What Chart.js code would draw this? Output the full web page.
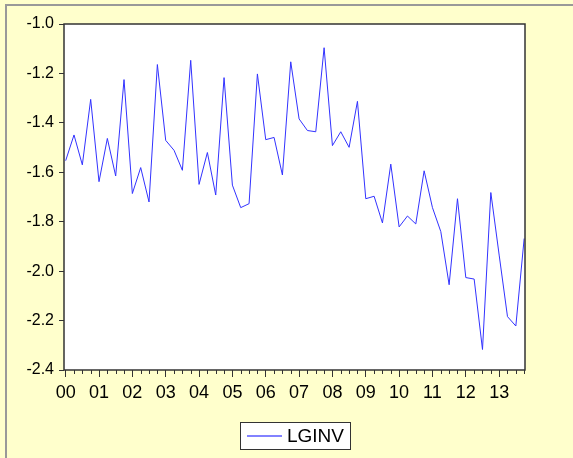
<!DOCTYPE html>
<html>
<head>
<meta charset="utf-8">
<script src="https://cdn.jsdelivr.net/npm/chart.js@4/dist/chart.umd.min.js"></script>
<style>
  body { margin: 0; background: #ffffcc; }
  canvas { display: block; }
</style>
</head>
<body>
<canvas id="myChart" width="573" height="458"></canvas>
<script>
// quarterly LGINV, 2000Q1 - 2013Q4
const yearLabels = ['00','01','02','03','04','05','06','07','08','09','10','11','12','13']
const lginv = [
  -1.553, -1.449, -1.570, -1.305,
  -1.638, -1.463, -1.615, -1.225,
  -1.686, -1.581, -1.720, -1.164,
  -1.471, -1.511, -1.592, -1.147,
  -1.649, -1.520, -1.692, -1.217,
  -1.652, -1.743, -1.727, -1.202,
  -1.468, -1.459, -1.611, -1.153,
  -1.384, -1.431, -1.436, -1.096,
  -1.492, -1.436, -1.499, -1.313,
  -1.707, -1.697, -1.805, -1.567,
  -1.821, -1.777, -1.809, -1.594,
  -1.743, -1.840, -2.055, -1.707,
  -2.026, -2.032, -2.317, -1.682,
  -1.935, -2.184, -2.222, -1.868
]
const yTicks = [-2.4, -2.2, -2.0, -1.8, -1.6, -1.4, -1.2, -1.0]
const seriesName = 'LGINV'

const canvas = document.getElementById('myChart')
const lineColor = 'rgb(50, 50, 255)'
const font = 'Liberation Sans, Arial, sans-serif'

// background, outer border, plot frame, quarter ticks and boxed legend
const evPlugin = {
  id: 'evStyle',
  beforeDraw(chart) {
    const ctx = chart.ctx
    ctx.save()
    ctx.fillStyle = '#ffffcc'
    ctx.fillRect(0, 0, chart.width, chart.height)
    ctx.strokeStyle = '#999999'
    ctx.lineWidth = 2
    ctx.beginPath()
    ctx.moveTo(6, chart.height)
    ctx.lineTo(6, 5)
    ctx.lineTo(chart.width, 5)
    ctx.stroke()
    const a = chart.chartArea
    ctx.fillStyle = '#ffffff'
    ctx.fillRect(a.left, a.top, a.right - a.left, a.bottom - a.top)
    ctx.restore()
  },
  afterDraw(chart) {
    const ctx = chart.ctx
    const a = chart.chartArea
    const x = chart.scales.x
    ctx.save()
    ctx.strokeStyle = '#333333'
    ctx.lineWidth = 1.5
    ctx.strokeRect(a.left, a.top, a.right - a.left, a.bottom - a.top)

    // minor quarter ticks
    ctx.lineWidth = 1
    ctx.beginPath()
    for (let i = 0; i < lginv.length; i++) {
      if (i % 4 === 0) continue
      const px = Math.round(x.getPixelForValue(i)) + 0.5
      ctx.moveTo(px, a.bottom)
      ctx.lineTo(px, a.bottom + 4)
    }
    ctx.stroke()

    // legend box
    const lx = 240, ly = 422, lw = 110, lh = 27
    ctx.fillStyle = '#ffffff'
    ctx.fillRect(lx, ly, lw, lh)
    ctx.strokeStyle = '#333333'
    ctx.strokeRect(lx + 0.5, ly + 0.5, lw, lh)
    ctx.strokeStyle = 'rgb(130, 130, 255)'
    ctx.lineWidth = 2
    ctx.beginPath()
    ctx.moveTo(247, ly + 14)
    ctx.lineTo(282, ly + 14)
    ctx.stroke()
    ctx.fillStyle = '#000000'
    ctx.font = '19px ' + font
    ctx.textBaseline = 'middle'
    ctx.fillText(chart.data.datasets[0].label, 287, ly + 15)
    ctx.restore()
  }
}

const config = {
  type: 'line',
  data: {
    datasets: [{
      label: seriesName,
      data: lginv.map((v, i) => ({ x: i, y: v })),
      borderColor: lineColor,
      borderWidth: 1,
      pointRadius: 0,
      tension: 0,
      fill: false
    }]
  },
  options: {
    responsive: false,
    animation: false,
    devicePixelRatio: 1,
    layout: {
      padding: { top: 24, right: 48, bottom: 0, left: 0 }
    },
    plugins: {
      legend: { display: false },
      tooltip: { enabled: false }
    },
    scales: {
      x: {
        type: 'linear',
        min: -0.2,
        max: 55.1,
        afterBuildTicks: scale => {
          scale.ticks = yearLabels.map((_, i) => ({ value: i * 4 }))
        },
        afterFit: scale => { scale.height = 88 },
        grid: { drawOnChartArea: false, drawTicks: true, tickLength: 7, color: '#333333' },
        border: { display: false },
        ticks: {
          autoSkip: false,
          maxRotation: 0,
          padding: 5,
          color: '#000000',
          font: { family: font, size: 18 },
          callback: v => yearLabels[v / 4]
        }
      },
      y: {
        min: -2.4,
        max: -1.0,
        afterBuildTicks: scale => {
          scale.ticks = yTicks.map(v => ({ value: v }))
        },
        afterFit: scale => { scale.width = 64 },
        grid: { drawOnChartArea: false, drawTicks: true, tickLength: 5, color: '#333333' },
        border: { display: false },
        ticks: {
          padding: 5,
          color: '#000000',
          font: { family: font, size: 16 },
          callback: v => v.toFixed(1)
        }
      }
    }
  },
  plugins: [evPlugin]
}

new Chart(canvas, config)
</script>
</body>
</html>
